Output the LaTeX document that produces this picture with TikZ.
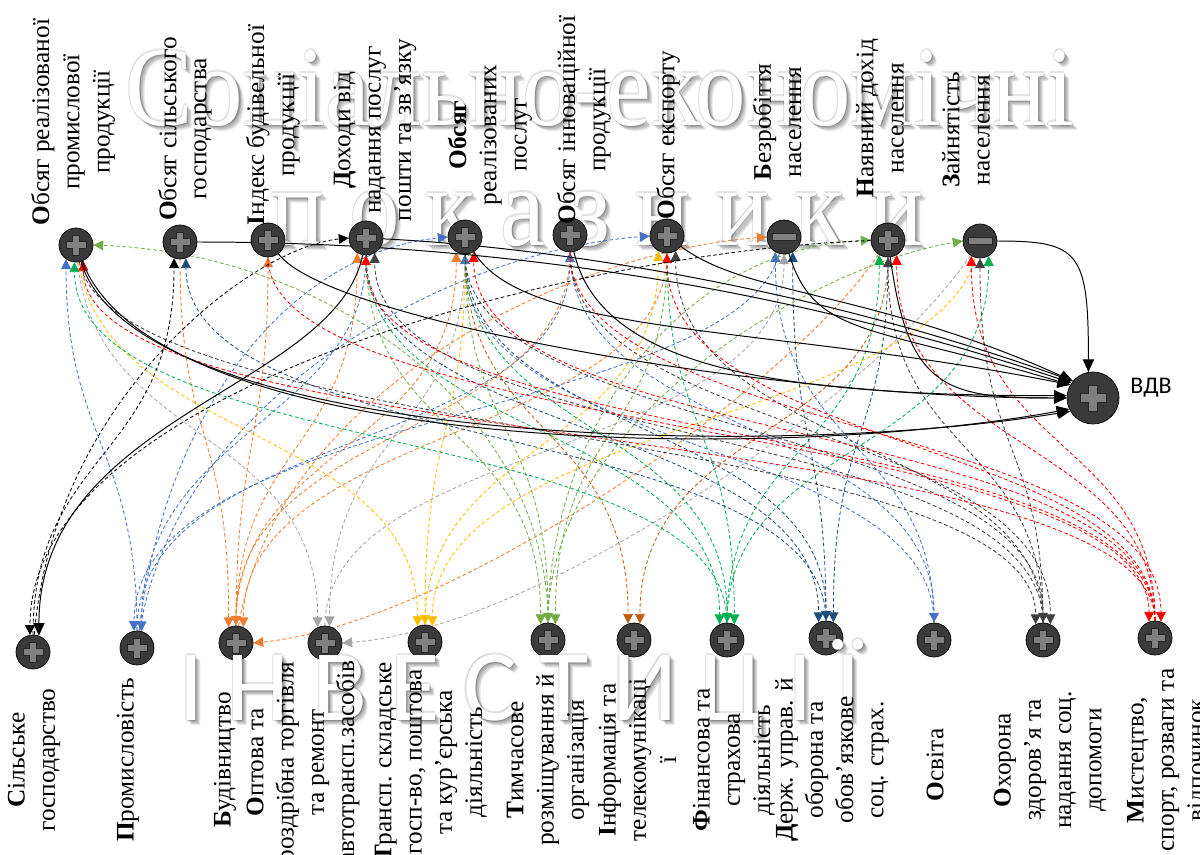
\documentclass[tikz,border=0pt]{standalone}
\usepackage{fontspec}
\setmainfont{Liberation Serif}
\newfontfamily\carl{Carlito}
\usetikzlibrary{arrows.meta,calc}
\pgfdeclarelayer{bg}
\pgfsetlayers{bg,main}
\definecolor{cblu}{HTML}{4472C4}
\definecolor{corg}{HTML}{ED7D31}
\definecolor{cgry}{HTML}{A5A5A5}
\definecolor{cyel}{HTML}{FFC000}
\definecolor{clgr}{HTML}{70AD47}
\definecolor{cdor}{HTML}{C55A11}
\definecolor{cgrn}{HTML}{00B050}
\definecolor{cdbl}{HTML}{1F4E79}
\definecolor{cdgr}{HTML}{404040}
\definecolor{cred}{HTML}{FF0000}
\definecolor{nodefill}{HTML}{3A3A3A}
\definecolor{plusfill}{HTML}{808080}
\newcommand\edgeC[5]{\draw[ed,#1] (#2) .. controls ($(#2)+(#3)$) and ($(#4)+(#5)$) .. (#4);}
\newcommand\edgeS[4]{\draw[sol] (#1) .. controls ($(#1)+(#2)$) and ($(#3)+(#4)$) .. (#3);}
\newcommand\glowtxt[3]{%
  \foreach \dx/\dy in {1/1.2,2/2.4,3/3.5,4/4.6,5/5.5}{\node[#2, text=black, opacity=0.09] at ($(#1)+(\dx,\dy)$) {#3};}%
  \foreach \dx/\dy in {-1.2/0,1.2/0,0/-1.2,0/1.2}{\node[#2, text=black, opacity=0.10] at ($(#1)+(\dx,\dy)$) {#3};}%
  \node[#2, text=white] at (#1) {#3};}
\newcommand\plussign[2]{\begin{scope}[shift={(#1)},scale=#2]
  \filldraw[fill=plusfill,draw=black!85,line width=0.4pt] (-10,-3.5) -- (-3.5,-3.5) -- (-3.5,-10) -- (3.5,-10) -- (3.5,-3.5) -- (10,-3.5) -- (10,3.5) -- (3.5,3.5) -- (3.5,10) -- (-3.5,10) -- (-3.5,3.5) -- (-10,3.5) -- cycle;
  \end{scope}}
\newcommand\minussign[1]{\begin{scope}[shift={(#1)}]
  \filldraw[fill=plusfill,draw=black!85,line width=0.4pt] (-12,-3.5) rectangle (12,3.5);
  \end{scope}}
\begin{document}
\begin{tikzpicture}[x=0.025cm,y=-0.025cm,
  dot/.style={circle,fill=nodefill,draw=black,line width=0.5pt,minimum size=0.85cm,inner sep=0pt},
  big/.style={dot,minimum size=1.3cm},
  ed/.style={dash pattern=on 2.6pt off 1.8pt,line width=0.6pt,-{Triangle[length=7pt,width=7pt]}},
  sol/.style={line width=0.7pt,-{Triangle[length=9pt,width=8pt]}},
  lab/.style={rotate=90,align=center,font=\fontsize{18}{21.5}\selectfont,inner sep=0pt}]
\useasboundingbox (0,0) rectangle (1200,854);
% nodes
\node[dot] (T1) at (76,245) {};
\node[dot] (T2) at (180,242) {};
\node[dot] (T3) at (268,240) {};
\node[dot] (T4) at (366,238) {};
\node[dot] (T5) at (465,237) {};
\node[dot] (T6) at (570,235) {};
\node[dot] (T7) at (667,236) {};
\node[dot] (T8) at (784,237) {};
\node[dot] (T9) at (888,240) {};
\node[dot] (T10) at (980,241) {};
\node[dot] (B1) at (33,652) {};
\node[dot] (B2) at (137,648) {};
\node[dot] (B3) at (236,643) {};
\node[dot] (B4) at (325,643) {};
\node[dot] (B5) at (425,642) {};
\node[dot] (B6) at (548,640) {};
\node[dot] (B7) at (634,640) {};
\node[dot] (B8) at (727,640) {};
\node[dot] (B9) at (826,638) {};
\node[dot] (B10) at (934,640) {};
\node[dot] (B11) at (1043,640) {};
\node[dot] (B12) at (1155,638) {};
\node[big] (V) at (1093,398) {};
\foreach \n in {T1,T2,T3,T4,T5,T6,T7,T9,B1,B2,B3,B4,B5,B6,B7,B8,B9,B10,B11,B12}{\plussign{\n}{1}}
\minussign{T8}\minussign{T10}
\plussign{V}{1.3}
\node[font=\carl\fontsize{17}{20}\selectfont] (Vl) at (1151,388) {ВДВ};
\begin{pgfonlayer}{bg}
\fill[white] (0,0) rectangle (1200,854);
\glowtxt{600,125}{anchor=base,font=\fontsize{72}{80}\selectfont}{\scalebox{1}[1.12]{Соціально-економічні}}
\glowtxt{597,245}{anchor=base,font=\fontsize{72}{80}\selectfont}{\scalebox{1}[1.12]{п о к а з н и к и}}
% blue
\edgeC{cblu}{B2}{0,-200}{T1.-125}{0,180}
\edgeC{cblu}{B2}{30,-250}{T5.180}{-150,15}
\edgeC{cblu}{B2}{0,-220}{T6.-90}{0,200}
\edgeC{cblu}{B2}{40,-250}{T7.180}{-200,15}
\edgeC{cblu}{T4}{0,180}{B2.75}{0,-200}
\edgeC{cblu}{T8}{-50,180}{B2.100}{0,-220}
\edgeC{cblu}{B10}{0,-200}{T5.-90}{0,200}
\edgeC{cblu}{B10}{0,-200}{T8.-120}{0,200}
\edgeC{cblu}{T6}{0,200}{B10.90}{0,-200}
% orange
\edgeC{corg}{B3}{0,-200}{T3.-90}{0,180}
\edgeC{corg}{B3}{0,-200}{T4.-120}{0,200}
\edgeC{corg}{B3}{0,-200}{T5.-120}{0,200}
\edgeC{corg}{B3}{40,-250}{T8.180}{-200,15}
\edgeC{corg}{T2}{0,200}{B3.115}{0,-200}
\edgeC{corg}{T6}{0,200}{B3.90}{0,-200}
\edgeC{corg}{T7}{0,200}{B3.65}{0,-200}
\edgeC{corg}{T9}{-100,150}{B3.0}{200,-20}
% grey
\edgeC{cgry}{B4}{0,-200}{T8.-90}{0,200}
\edgeC{cgry}{T1}{20,200}{B4.115}{0,-200}
\edgeC{cgry}{T5}{0,200}{B4.75}{0,-200}
\edgeC{cgry}{T10}{-100,150}{B4.0}{200,-15}
% yellow
\edgeC{cyel}{B5}{0,-200}{T7.-120}{0,200}
\edgeC{cyel}{T1}{30,200}{B5.115}{0,-200}
\edgeC{cyel}{T5}{0,200}{B5.90}{0,-200}
\edgeC{cyel}{T10}{-50,180}{B5.65}{0,-200}
% light green
\edgeC{clgr}{B6}{0,-220}{T1.0}{250,10}
\edgeC{clgr}{B6}{0,-200}{T9.180}{-200,10}
\edgeC{clgr}{B6}{0,-220}{T10.180}{-150,25}
\edgeC{clgr}{T4}{0,200}{B6.115}{0,-200}
\edgeC{clgr}{T5}{0,200}{B6.90}{0,-200}
\edgeC{clgr}{T7}{0,200}{B6.65}{0,-200}
% dark orange
\edgeC{cdor}{T5}{0,200}{B7.110}{0,-200}
\edgeC{cdor}{T9}{0,200}{B7.70}{0,-200}
% green
\edgeC{cgrn}{B8}{0,-220}{T1.-95}{0,200}
\edgeC{cgrn}{B8}{0,-200}{T9.-120}{0,200}
\edgeC{cgrn}{B8}{0,-200}{T10.-60}{0,200}
\edgeC{cgrn}{T4}{0,200}{B8.115}{0,-200}
\edgeC{cgrn}{T5}{0,200}{B8.90}{0,-200}
\edgeC{cgrn}{T7}{0,200}{B8.65}{0,-200}
% dark blue
\edgeC{cdbl}{B9}{0,-220}{T2.-70}{0,200}
\edgeC{cdbl}{B9}{0,-200}{T8.-60}{0,200}
\edgeC{cdbl}{T4}{0,200}{B9.115}{0,-200}
\edgeC{cdbl}{T5}{0,200}{B9.90}{0,-200}
\edgeC{cdbl}{T9}{0,200}{B9.65}{0,-200}
% dark grey
\edgeC{cdgr}{B11}{0,-220}{T4.-60}{0,200}
\edgeC{cdgr}{B11}{0,-200}{T7.-60}{0,200}
\edgeC{cdgr}{B11}{0,-200}{T9.-90}{0,200}
\edgeC{cdgr}{B11}{0,-200}{T10.-90}{0,200}
\edgeC{cdgr}{T1}{40,200}{B11.115}{0,-200}
\edgeC{cdgr}{T5}{0,200}{B11.90}{0,-200}
\edgeC{cdgr}{T6}{0,200}{B11.65}{0,-200}
% red
\edgeC{cred}{B12}{0,-220}{T1.-65}{0,200}
\edgeC{cred}{B12}{0,-220}{T4.-90}{0,200}
\edgeC{cred}{B12}{0,-220}{T5.-60}{0,200}
\edgeC{cred}{B12}{0,-200}{T7.-90}{0,200}
\edgeC{cred}{B12}{0,-200}{T9.-60}{0,200}
\edgeC{cred}{B12}{0,-200}{T10.-120}{0,200}
\edgeC{cred}{T3}{0,200}{B12.110}{0,-200}
\edgeC{cred}{T6}{0,200}{B12.70}{0,-200}
% black dashed
\edgeC{black}{B1}{0,-200}{T2.-110}{0,200}
\edgeC{black}{B1}{20,-250}{T4.180}{-100,10}
\edgeC{black}{T9}{-300,10}{B1.100}{0,-250}
% black solid
\edgeS{T4}{-30,150}{B1.70}{0,-220}
\edgeS{T1}{60,200}{V.210}{-300,50}
\edgeS{T1}{80,210}{V.205}{-300,55}
\edgeS{T2}{300,0}{V.145}{-300,-100}
\edgeS{T3}{60,80}{V.180}{-300,0}
\edgeS{T4}{200,10}{V.140}{-250,-90}
\edgeS{T5}{60,100}{V.150}{-300,-60}
\edgeS{T6}{30,130}{V.175}{-300,0}
\edgeS{T7}{80,60}{V.140}{-200,-90}
\edgeS{T8}{30,100}{V.150}{-200,-60}
\edgeS{T9}{20,150}{V.180}{-120,0}
\edgeS{T10}{100,0}{V.100}{0,-120}
\end{pgfonlayer}
\glowtxt{520,720}{anchor=base,font=\carl\fontsize{72}{80}\selectfont}{І Н В Е С Т И Ц І Ї}
% labels top
\node[lab] (L1) at (73,122) {\textbf{О}бсяг реалізованої\\промислової\\продукції};
\node[lab] (L2) at (185,129) {\textbf{О}бсяг сільського\\господарства};
\node[lab] (L3) at (273,125) {\textbf{І}ндекс будівельної\\продукції};
\node[lab] (L4) at (375,130) {\textbf{Д}оходи від\\надання послуг\\пошти та зв’язку};
\node[lab] (L5) at (490,135) {\textbf{Обсяг}\\реалізованих\\послуг};
\node[lab] (L6) at (584,120) {\textbf{О}бсяг інноваційної\\продукції};
\node[lab] (L7) at (668,135) {\textbf{О}бсяг експорту};
\node[lab] (L8) at (777,122) {\textbf{Б}езробіття\\населення};
\node[lab] (L9) at (880,118) {\textbf{Н}аявний дохід\\населення};
\node[lab] (L10) at (966,130) {\textbf{З}айнятість\\населення};
% labels bottom
\node[lab] (M1) at (34,760) {\textbf{С}ільське\\господарство};
\node[lab] (M2) at (128,760) {\textbf{П}ромисловість};
\node[lab] (M3) at (225,760) {\textbf{Б}удівництво};
\node[lab] (M4) at (303,762) {\textbf{О}птова та\\роздрібна торгівля\\та ремонт\\автотрансп.засобів};
\node[lab] (M5) at (431,762) {\textbf{Т}рансп. складське\\госп-во, поштова\\та кур’єрська\\діяльність};
\node[lab] (M6) at (548,760) {\textbf{Т}имчасове\\розміщування й\\організація};
\node[lab] (M7) at (637,760) {\textbf{І}нформація та\\телекомунікаці\\ї};
\node[lab] (M8) at (734,760) {\textbf{Ф}інансова та\\страхова\\діяльність};
\node[lab] (M9) at (832,760) {\textbf{Д}ерж. управ. й\\оборона та\\обов’язкове\\соц. страх.};
\node[lab] (M10) at (935,765) {\textbf{О}світа};
\node[lab] (M11) at (1050,760) {\textbf{О}хорона\\здоров’я та\\надання соц.\\допомоги};
\node[lab] (M12) at (1168,760) {\textbf{М}истецтво,\\спорт, розваги та\\відпочинок};
\end{tikzpicture}
\end{document}
